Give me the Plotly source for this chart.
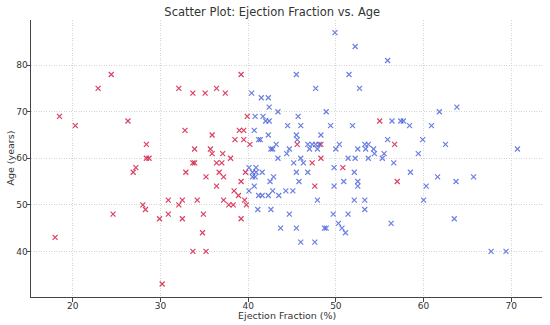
import plotly.graph_objects as go

# Red series (ejection fraction %, age years)
red_ef = [24.4, 22.9, 32.1, 33.7, 35.1, 18.5, 20.3, 26.3, 32.8, 28.4, 33.9, 28.4, 28.7, 33.7, 33.9,
          27.2, 35.7, 26.9, 32.9, 35.2, 28.0, 28.3, 24.6, 30.9, 32.5, 34.2, 32.1, 30.9, 29.9, 32.5,
          34.9, 34.8, 33.7, 35.2, 18.0, 30.2, 39.2, 36.4, 37.4, 39.9, 35.9, 39.0, 39.5, 38.5, 39.5,
          40.2, 35.9, 37.1, 38.0, 36.4, 37.0, 45.6, 48.3, 48.3, 47.3, 36.7, 37.2, 36.4, 39.7, 39.2,
          38.4, 38.9, 37.2, 37.8, 38.3, 39.6, 39.8, 39.2, 47.6, 55.0, 56.7, 50.8, 57.0]
red_age = [78, 75, 75, 74, 74, 69, 67, 68, 66, 63, 62, 60, 60, 59, 59,
           58, 62, 57, 57, 56, 50, 49, 48, 51, 51, 51, 50, 48, 47, 47,
           48, 44, 40, 40, 43, 33, 78, 75, 74, 69, 65, 66, 66, 64, 64,
           63, 61, 61, 60, 59, 59, 63, 63, 60, 59, 57, 56, 54, 57, 55,
           53, 52, 51, 50, 50, 51, 50, 47, 54, 68, 63, 58, 55]

# Blue series
blue_ef = [49.9, 52.2, 55.9, 45.5, 51.5, 47.7, 52.7, 40.4, 41.5, 42.3, 42.4, 43.4, 48.9, 61.8, 63.8,
           40.8, 41.7, 45.7, 42.0, 42.4, 56.4, 57.4, 57.7, 44.5, 46.0, 49.4, 51.9, 58.4, 60.9, 40.7,
           42.3, 45.5, 48.3, 45.6, 41.2, 41.4, 55.9, 59.9, 43.2, 46.8, 47.3, 47.7, 50.4, 53.3, 53.7,
           62.5, 42.6, 42.8, 44.7, 47.0, 47.9, 50.0, 52.5, 53.4, 54.3, 70.7, 44.4, 54.4, 55.5, 59.4,
           43.4, 46.0, 51.4, 52.2, 53.7, 55.3, 45.2, 46.3, 56.6, 40.1, 40.9, 49.8, 40.5, 40.9, 41.6,
           45.5, 46.8, 52.1, 58.5, 40.5, 40.8, 42.9, 61.6, 65.7, 42.5, 45.8, 50.9, 52.5, 63.7, 40.7,
           49.8, 52.5, 60.3, 40.1, 42.8, 44.3, 45.1, 41.2, 41.6, 42.3, 43.5, 47.9, 52.1, 53.3, 60.0,
           41.1, 42.6, 53.3, 44.7, 49.7, 51.4, 63.5, 50.3, 56.3, 43.7, 45.5, 48.7, 48.9, 50.7, 51.1,
           46.0, 47.6, 67.7, 69.4, 48.1]
blue_age = [87, 84, 81, 78, 78, 75, 75, 74, 73, 73, 71, 70, 70, 70, 71,
            69, 69, 69, 68, 68, 68, 68, 68, 67, 67, 67, 67, 67, 67, 66,
            65, 65, 65, 64, 64, 64, 64, 64, 63, 63, 63, 63, 63, 63, 63,
            63, 62, 62, 62, 62, 62, 62, 62, 62, 62, 62, 61, 61, 61, 61,
            60, 60, 60, 60, 60, 60, 59, 59, 59, 58, 58, 58, 57, 57, 57,
            57, 57, 57, 57, 56, 56, 56, 56, 56, 55, 55, 55, 55, 55, 54,
            54, 54, 54, 53, 53, 53, 53, 52, 52, 52, 52, 51, 51, 51, 51,
            49, 49, 49, 48, 48, 48, 47, 46, 46, 45, 45, 45, 45, 45, 44,
            42, 42, 40, 40, 63]

x_ticks = [20, 30, 40, 50, 60, 70]
y_ticks = [40, 50, 60, 70, 80]

FONT = "DejaVu Sans"
RED = "rgba(214,32,70,0.85)"
BLUE = "rgba(70,95,220,0.8)"

fig = go.Figure()
fig.add_trace(go.Scatter(
    x=red_ef, y=red_age, mode="markers", showlegend=False,
    marker=dict(symbol="x-thin", size=5, color=RED, line=dict(width=1.2, color=RED)),
))
fig.add_trace(go.Scatter(
    x=blue_ef, y=blue_age, mode="markers", showlegend=False,
    marker=dict(symbol="x-thin", size=5, color=BLUE, line=dict(width=1.2, color=BLUE)),
))

axis_common = dict(
    showline=True, linecolor="#444", linewidth=1,
    ticks="outside", ticklen=3.5, tickwidth=1, tickcolor="#444",
    showgrid=True, gridcolor="#d4d4d4", gridwidth=0.8, griddash="1px,1.5px",
    zeroline=False, tickfont=dict(family=FONT, size=9, color="#333"),
    automargin=False, mirror=False, ticklabelstandoff=-3,
)

fig.update_layout(
    width=550, height=325,
    margin=dict(l=31, r=8, t=20, b=28),
    paper_bgcolor="white", plot_bgcolor="white",
    font=dict(family=FONT, color="#333"),
    title=dict(text="Scatter Plot: Ejection Fraction vs. Age", x=0.495, xref="container",
               xanchor="center", y=0.962, yref="container", yanchor="middle",
               font=dict(family=FONT, size=11.5, color="#333")),
    xaxis=dict(range=[15.25, 73.5], tickvals=x_ticks, **axis_common),
    yaxis=dict(range=[30.2, 89.7], tickvals=y_ticks, **axis_common),
    annotations=[
        dict(text="Ejection Fraction (%)", xref="paper", yref="paper", x=0.5, y=-0.068,
             xanchor="center", yanchor="middle", showarrow=False,
             font=dict(family=FONT, size=9.5, color="#333")),
        dict(text="Age (years)", xref="paper", yref="paper", x=-0.041, y=0.5,
             xanchor="center", yanchor="middle", textangle=-90, showarrow=False,
             font=dict(family=FONT, size=9.5, color="#333")),
    ],
)

fig.write_html("out.html", config={"displayModeBar": False},
               post_script="document.body.style.margin='0px';")
